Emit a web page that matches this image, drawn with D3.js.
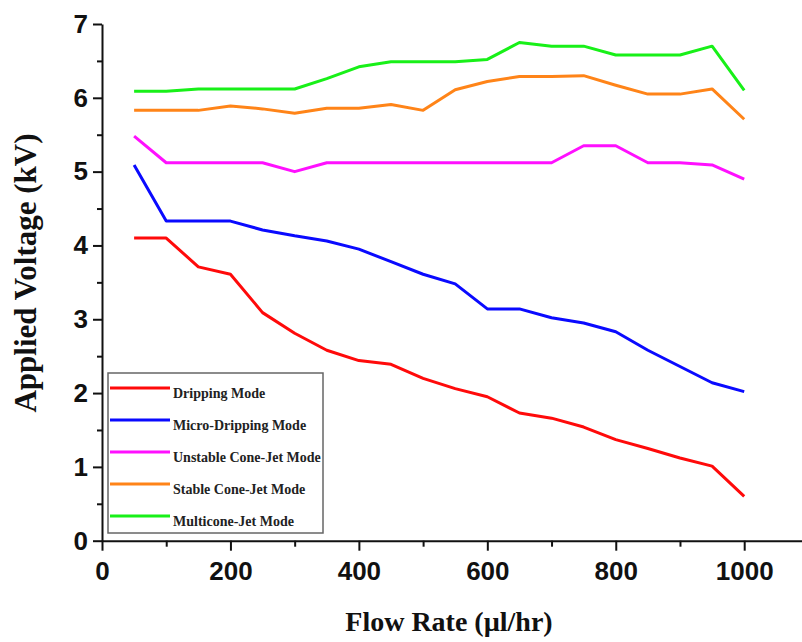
<!DOCTYPE html>
<html>
<head>
<meta charset="utf-8">
<script src="https://cdn.jsdelivr.net/npm/d3@7"></script>
<style>
  body { margin: 0; background: #fff; }
  svg { display: block; }
  .tick text { font-family: "Liberation Sans", Arial, sans-serif; font-weight: bold; }
</style>
</head>
<body>
<div id="chart"></div>
<script>
// chart size
const WIDTH = 802;
const HEIGHT = 642;

// data (flow rate in µl/hr, voltage in kV)
const flowRates = [50, 100, 150, 200, 250, 300, 350, 400, 450, 500, 550, 600, 650, 700, 750, 800, 850, 900, 950, 1000];
const dripping = [4.10, 4.10, 3.71, 3.61, 3.09, 2.81, 2.58, 2.44, 2.39, 2.20, 2.06, 1.95, 1.73, 1.66, 1.54, 1.37, 1.25, 1.12, 1.01, 0.60];
const microDripping = [5.09, 4.33, 4.33, 4.33, 4.21, 4.13, 4.06, 3.95, 3.78, 3.61, 3.48, 3.14, 3.14, 3.02, 2.95, 2.83, 2.58, 2.36, 2.14, 2.02];
const unstableConeJet = [5.48, 5.12, 5.12, 5.12, 5.12, 5.00, 5.12, 5.12, 5.12, 5.12, 5.12, 5.12, 5.12, 5.12, 5.35, 5.35, 5.12, 5.12, 5.09, 4.90];
const stableConeJet = [5.83, 5.83, 5.83, 5.89, 5.85, 5.79, 5.86, 5.86, 5.91, 5.83, 6.11, 6.22, 6.29, 6.29, 6.30, 6.17, 6.05, 6.05, 6.12, 5.71];
const multiconeJet = [6.09, 6.09, 6.12, 6.12, 6.12, 6.12, 6.26, 6.42, 6.49, 6.49, 6.49, 6.52, 6.75, 6.70, 6.70, 6.58, 6.58, 6.58, 6.70, 6.10];

const seriesNames = ["Dripping Mode", "Micro-Dripping Mode", "Unstable Cone-Jet Mode", "Stable Cone-Jet Mode", "Multicone-Jet Mode"];
const seriesColors = ["#ff0a0a", "#0a0aff", "#ff10ff", "#ff8418", "#18f018"];
const seriesValues = [dripping, microDripping, unstableConeJet, stableConeJet, multiconeJet];

const xTicks = [0, 200, 400, 600, 800, 1000];
const yTicks = [0, 1, 2, 3, 4, 5, 6, 7];

const svg = d3.select("#chart")
  .append("svg")
  .attr("width", WIDTH)
  .attr("height", HEIGHT);

// scales
const x = d3.scaleLinear().domain([0, 1090]).range([102, 802]);
const y = d3.scaleLinear().domain([0, 7]).range([540.7, 24]);

// minor ticks first, so major ones sit on top
svg.append("g")
  .attr("transform", `translate(0,${y(0)})`)
  .call(d3.axisBottom(x).tickValues(d3.range(100, 1100, 200)).tickSize(6).tickFormat(""))
  .call(g => g.select(".domain").remove())
  .call(g => g.selectAll("line").attr("stroke", "#111").attr("stroke-width", 2));

svg.append("g")
  .attr("transform", `translate(${x(0)},0)`)
  .call(d3.axisLeft(y).tickValues(d3.range(0.5, 7, 1)).tickSize(5).tickFormat(""))
  .call(g => g.select(".domain").remove())
  .call(g => g.selectAll("line").attr("stroke", "#111").attr("stroke-width", 2));

// x axis
svg.append("g")
  .attr("transform", `translate(0,${y(0)})`)
  .call(d3.axisBottom(x).tickValues(xTicks).tickFormat(d3.format("d")).tickSize(10).tickPadding(11).tickSizeOuter(0))
  .call(g => g.select(".domain").attr("stroke", "#111").attr("stroke-width", 2))
  .call(g => g.selectAll(".tick line").attr("stroke", "#111").attr("stroke-width", 2))
  .call(g => g.selectAll(".tick text").attr("font-size", 26).attr("fill", "#111"));

// y axis
svg.append("g")
  .attr("transform", `translate(${x(0)},0)`)
  .call(d3.axisLeft(y).tickValues(yTicks).tickFormat(d3.format("d")).tickSize(9).tickPadding(5).tickSizeOuter(0))
  .call(g => g.select(".domain").attr("stroke", "#111").attr("stroke-width", 2))
  .call(g => g.selectAll(".tick line").attr("stroke", "#111").attr("stroke-width", 2))
  .call(g => g.selectAll(".tick text").attr("font-size", 26).attr("fill", "#111"));

// axis titles
svg.append("text")
  .attr("x", 449)
  .attr("y", 631)
  .attr("text-anchor", "middle")
  .attr("font-family", "'Liberation Serif', 'Times New Roman', serif")
  .attr("font-weight", "bold")
  .attr("font-size", 28)
  .attr("fill", "#111")
  .text("Flow Rate (\u00b5l/hr)");

svg.append("text")
  .attr("transform", "translate(36,273) rotate(-90)")
  .attr("text-anchor", "middle")
  .attr("font-family", "'Liberation Serif', 'Times New Roman', serif")
  .attr("font-weight", "bold")
  .attr("font-size", 31)
  .attr("fill", "#111")
  .text("Applied Voltage (kV)");

// lines
const line = d3.line()
  .x((d, i) => x(flowRates[i]))
  .y(d => y(d));

svg.append("g")
  .selectAll("path")
  .data(seriesValues)
  .join("path")
  .attr("d", line)
  .attr("fill", "none")
  .attr("stroke", (d, i) => seriesColors[i])
  .attr("stroke-width", 3)
  .attr("stroke-linejoin", "round");

// legend
const legend = svg.append("g");
legend.append("rect")
  .attr("x", 108)
  .attr("y", 373)
  .attr("width", 215)
  .attr("height", 160)
  .attr("fill", "#fff")
  .attr("stroke", "#666")
  .attr("stroke-width", 1.5);

const items = legend.selectAll("g.item")
  .data(seriesNames)
  .join("g")
  .attr("class", "item")
  .attr("transform", (d, i) => `translate(0,${388 + i * 32})`);

items.append("line")
  .attr("x1", 110)
  .attr("x2", 170)
  .attr("stroke", (d, i) => seriesColors[i])
  .attr("stroke-width", 3);

items.append("text")
  .attr("x", 173)
  .attr("y", 10)
  .attr("font-family", "'Liberation Serif', 'Times New Roman', serif")
  .attr("font-weight", "bold")
  .attr("font-size", 14)
  .attr("fill", "#222")
  .text(d => d);
</script>
</body>
</html>
